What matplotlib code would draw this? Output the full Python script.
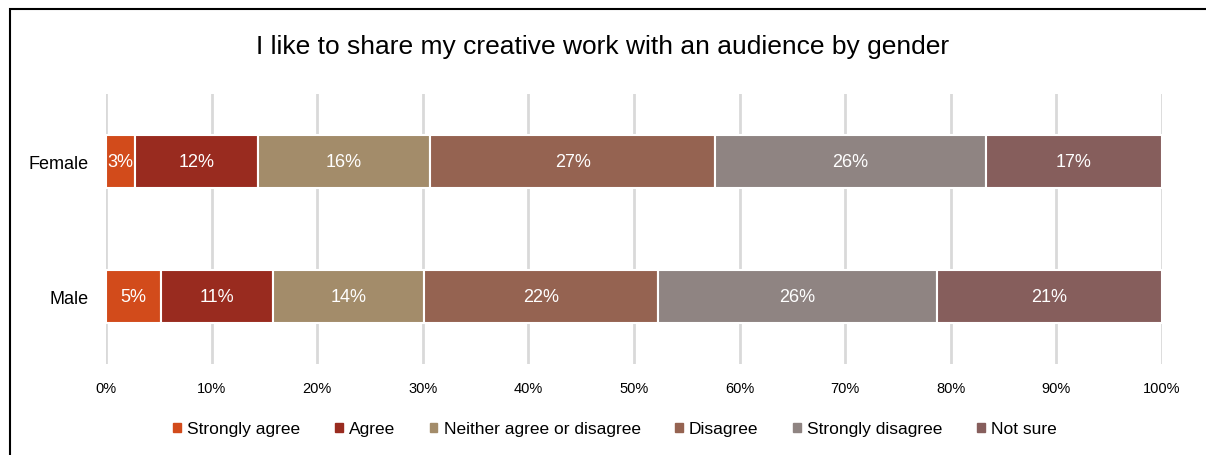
import matplotlib
matplotlib.use("Agg")
import matplotlib.pyplot as plt
from matplotlib.patches import Rectangle, Patch

plt.rcParams['font.family'] = ['Liberation Sans', 'DejaVu Sans']

# Datos
groups = ['Female', 'Male']
responses = ['Strongly agree', 'Agree', 'Neither agree or disagree',
             'Disagree', 'Strongly disagree', 'Not sure']
female = [2.7, 11.7, 16.3, 27.0, 25.6, 16.7]
male = [5.2, 10.6, 14.3, 22.2, 26.4, 21.3]
female_labels = ['3%', '12%', '16%', '27%', '26%', '17%']
male_labels = ['5%', '11%', '14%', '22%', '26%', '21%']
colors = ['#D24B1B', '#992B1F', '#A38C6A', '#956351', '#8F8482', '#865E5C']
ticks = [0, 10, 20, 30, 40, 50, 60, 70, 80, 90, 100]

values = [female, male]
labels = [female_labels, male_labels]

fig = plt.figure(figsize=(12.06, 4.56), dpi=100)
ax = fig.add_axes([106 / 1206, 1 - 365 / 456, 1056 / 1206, 270 / 456])

# Barras apiladas
for g in range(len(groups)):
    left = 0
    for i in range(len(responses)):
        v = values[g][i]
        ax.barh(g, v, left=left, height=0.39, color=colors[i],
                edgecolor='white', linewidth=1.5, zorder=3)
        ax.text(left + v / 2, g, labels[g][i], ha='center', va='center',
                color='white', fontsize=13, zorder=4)
        left += v

ax.set_xlim(0, 100)
ax.set_ylim(1.5, -0.5)
ax.set_yticks(range(len(groups)))
ax.set_yticklabels(groups, fontsize=13)
ax.set_xticks(ticks)
ax.set_xticklabels([f'{t}%' for t in ticks], fontsize=10.5)
ax.tick_params(length=0)
ax.tick_params(axis='x', pad=12)
ax.tick_params(axis='y', pad=12.5)
ax.grid(axis='x', color='#D9D9D9', linewidth=2, zorder=0)
for s in ax.spines.values():
    s.set_visible(False)

fig.text(0.5, 1 - 47 / 456, 'I like to share my creative work with an audience by gender',
         ha='center', va='center', fontsize=19)

handles = [Patch(color=c) for c in colors]
fig.legend(handles, responses, loc='center', bbox_to_anchor=(615 / 1206, 1 - 430 / 456),
           ncol=6, frameon=False, fontsize=12.5, handlelength=0.45, handleheight=0.45,
           handletextpad=0.35, columnspacing=2.0)

# Borde de la figura
fig.patches.append(Rectangle((10 / 1206, -0.1), 1.2, 1.1 - 10 / 456,
                             transform=fig.transFigure, fill=False,
                             edgecolor='black', linewidth=1.5))

fig.savefig('out.png', dpi=100)
